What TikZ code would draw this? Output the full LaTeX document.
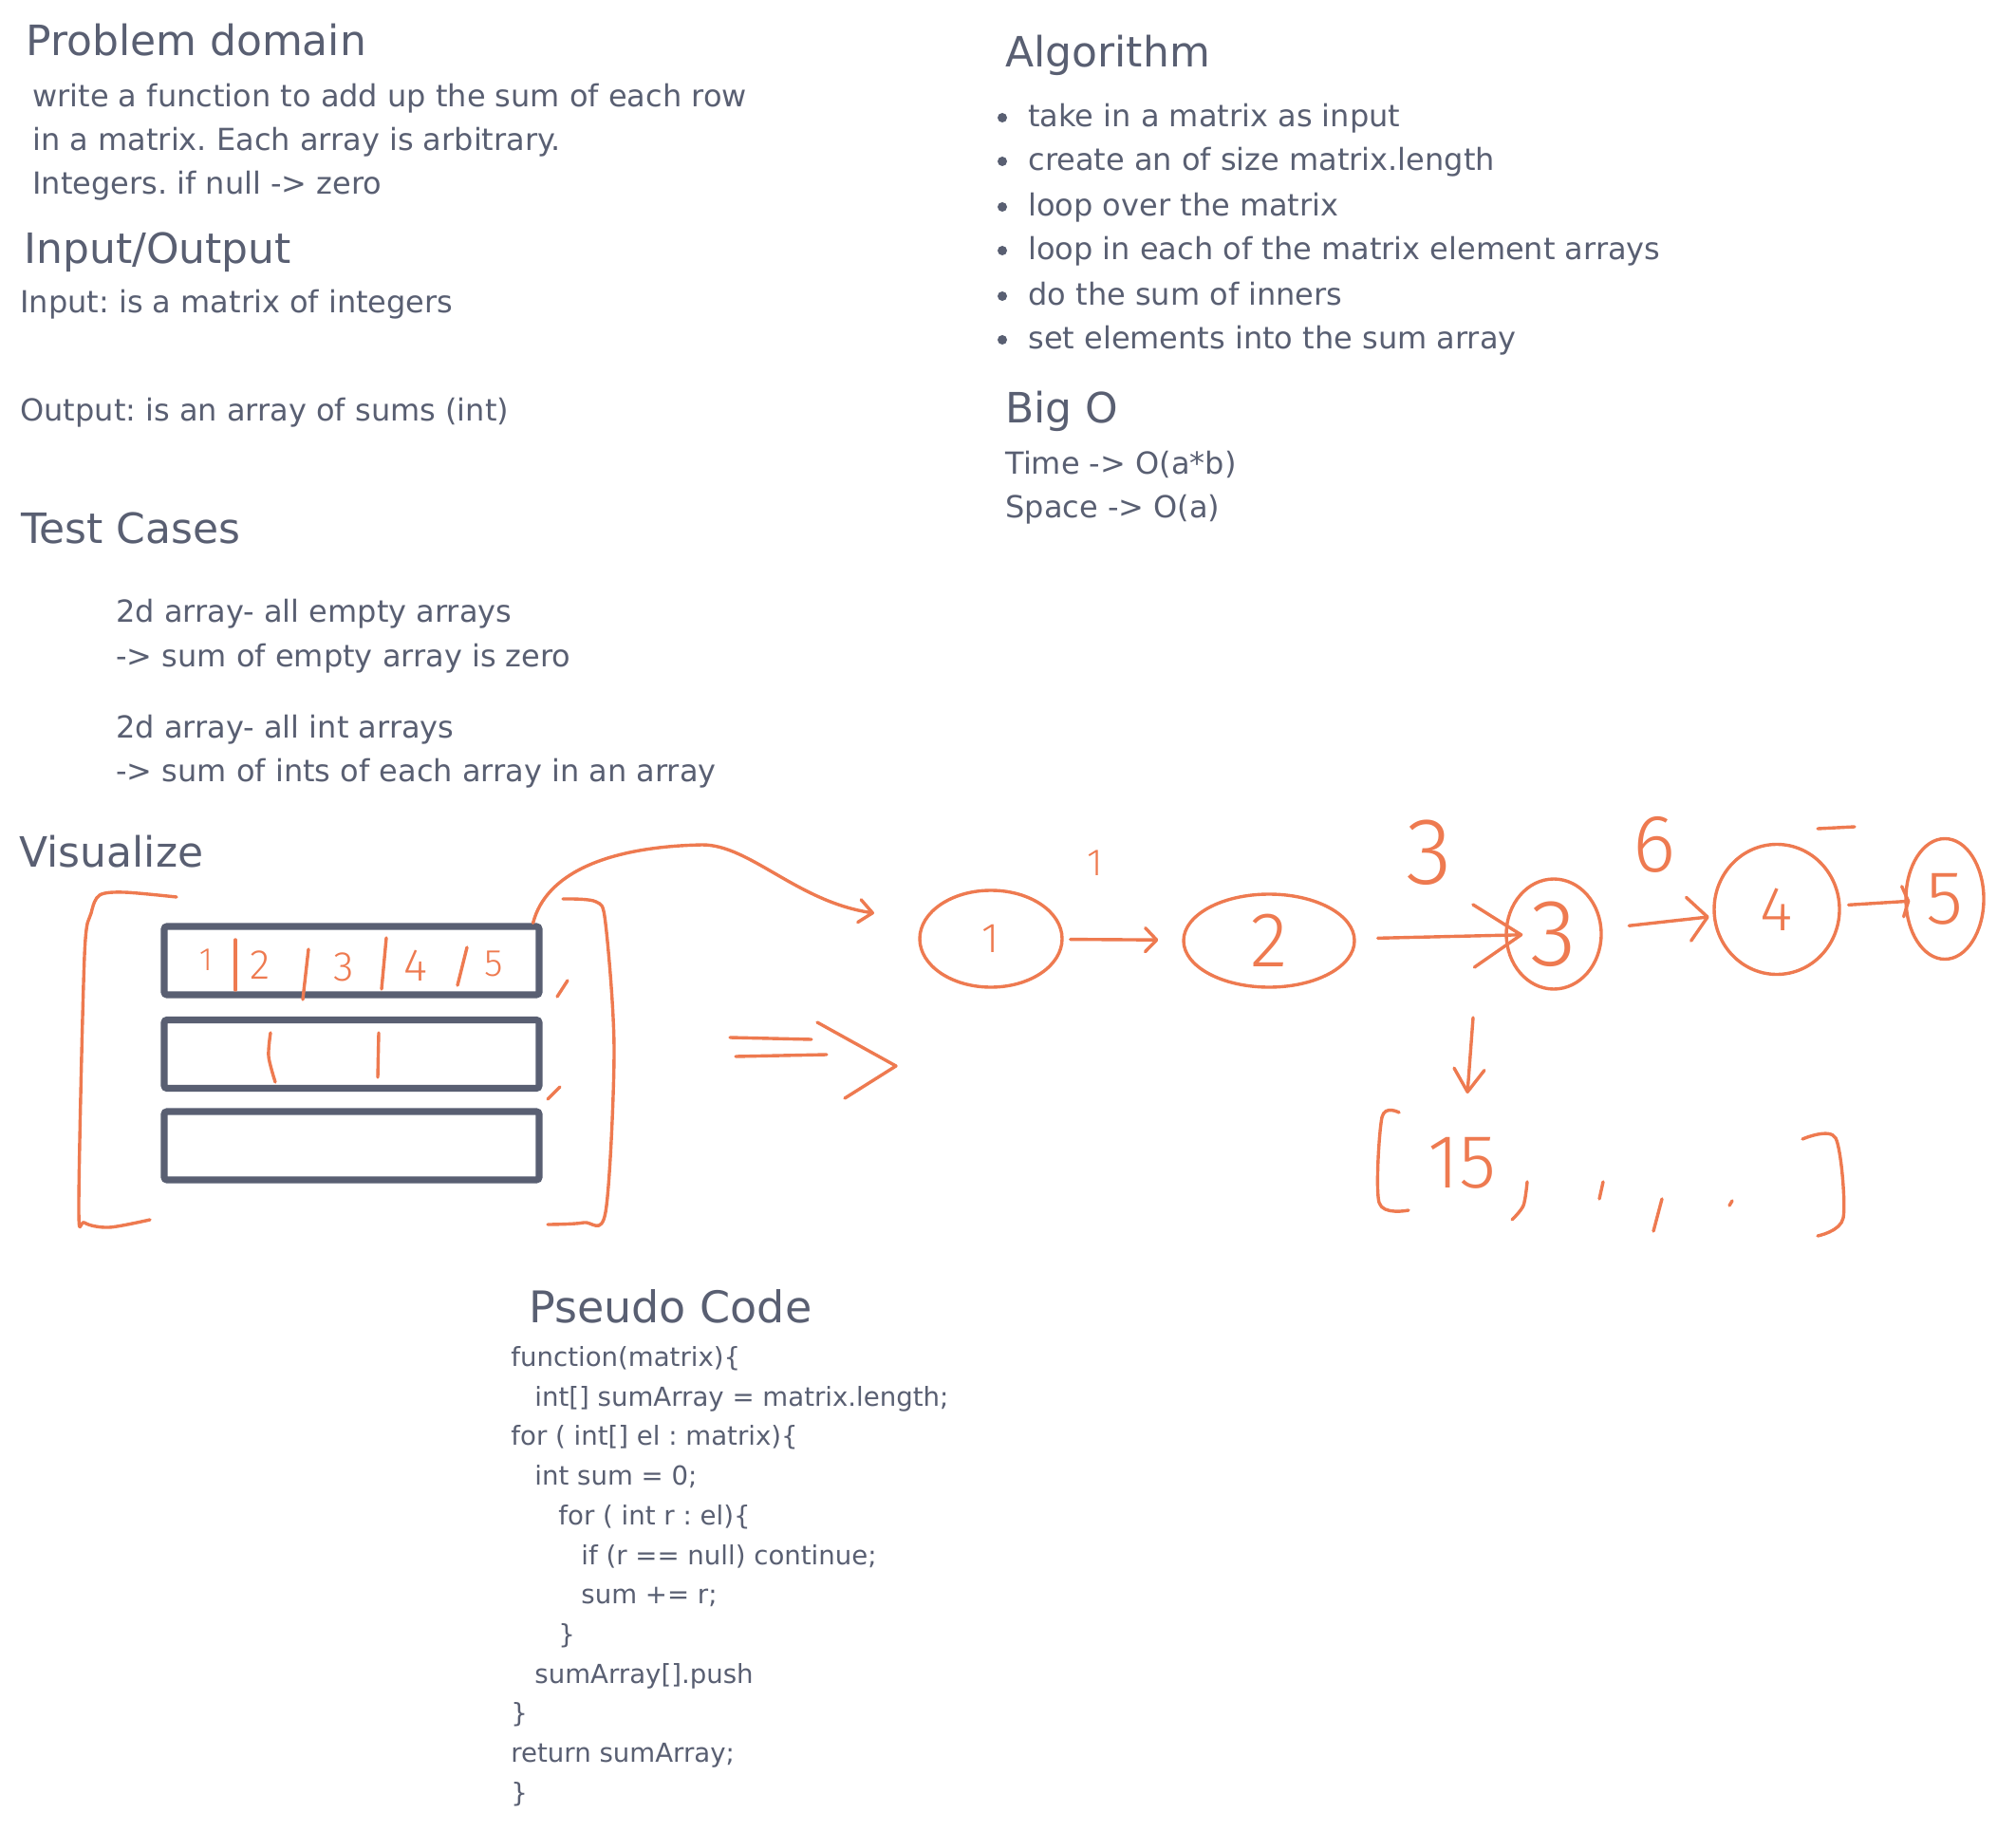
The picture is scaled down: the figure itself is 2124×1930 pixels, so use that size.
\documentclass[tikz,border=0pt]{standalone}
\usepackage{fontspec}
\setmainfont{DejaVu Sans}
\newfontfamily\handfont{Fira Sans Light}
\frenchspacing
\usetikzlibrary{shapes.geometric,arrows.meta}
\definecolor{slate}{RGB}{89,95,114}
\definecolor{pen}{RGB}{238,122,80}
\tikzstyle{Heading}=[anchor=base west, inner sep=0pt, text=slate, font=\fontsize{22}{26}\selectfont]
\tikzstyle{BodyText}=[anchor=base west, inner sep=0pt, text=slate, font=\fontsize{16}{19}\selectfont]
\tikzstyle{CodeLine}=[BodyText, font=\fontsize{13.8}{16}\selectfont]
\tikzstyle{Bullet}=[circle, fill=slate, inner sep=0pt, minimum size=5pt]
\tikzstyle{RowBox}=[rectangle, draw=slate, line width=3.6pt, rounded corners=1.5pt, minimum width=197.5pt, minimum height=36pt]
\tikzstyle{Pen}=[draw=pen, line width=1.7pt, line cap=round, line join=round]
\tikzstyle{Ink}=[text=pen, inner sep=0pt]
\tikzstyle{NumNode}=[ellipse, Pen, Ink]
\tikzstyle{PenEdge}=[Pen, ->]
\tikzset{>={Straight Barb[round]}}
\tikzset{HandSize/.style={font=\handfont\fontsize{#1}{#1}\selectfont}}

\begin{document}
\begin{tikzpicture}[x=0.5pt, y=-0.5pt]
\fill[white] (0,0) rectangle (2124,1930);
\useasboundingbox (0,0) rectangle (2124,1930);

% problem domain and input/output
\node[Heading](pdTitle) at (27,59) {Problem domain};
\node[BodyText](pd1) at (34,113) {write a function to add up the sum of each row};
\node[BodyText](pd2) at (34,159) {in a matrix. Each array is arbitrary.};
\node[BodyText](pd3) at (34,205) {Integers. if null -> zero};

\node[Heading](ioTitle) at (25,278) {Input/Output};
\node[BodyText](ioIn) at (21,330) {Input: is a matrix of integers};
\node[BodyText](ioOut) at (21,444) {Output: is an array of sums (int)};

\node[Heading](tcTitle) at (22,573) {Test Cases};
\node[BodyText](tc1) at (122,655) {2d array- all empty arrays};
\node[BodyText](tc2) at (122,702) {-> sum of empty array is zero};
\node[BodyText](tc3) at (122,777) {2d array- all int arrays};
\node[BodyText](tc4) at (122,823) {-> sum of ints of each array in an array};

%%%%%%%%%%%%%%%%%%%%%%%%%%%%%%%%%%%%%%%%%

\node[Heading](algTitle) at (1059,71) {Algorithm};
\node[Bullet](b1) at (1056,124) {};
\node[BodyText](alg1) at (1083,134) {take in a matrix as input};
\node[Bullet](b2) at (1056,170) {};
\node[BodyText](alg2) at (1083,180) {create an of size matrix.length};
\node[Bullet](b3) at (1056,218) {};
\node[BodyText](alg3) at (1083,228) {loop over the matrix};
\node[Bullet](b4) at (1056,264) {};
\node[BodyText](alg4) at (1083,274) {loop in each of the matrix element arrays};
\node[Bullet](b5) at (1056,312) {};
\node[BodyText](alg5) at (1083,322) {do the sum of inners};
\node[Bullet](b6) at (1056,358) {};
\node[BodyText](alg6) at (1083,368) {set elements into the sum array};

\node[Heading](boTitle) at (1059,446) {Big O};
\node[BodyText](boTime) at (1059,500) {Time -> O(a*b)};
\node[BodyText](boSpace) at (1059,546) {Space -> O(a)};

%%%%%%%%%%%%%%%%%%%%%%%%%%%%%%%%%%%%%%%%%

\node[Heading](visTitle) at (20,913) {Visualize};

\node[RowBox](row1) at (370.5,1012) {};
\node[RowBox](row2) at (370.5,1110.5) {};
\node[RowBox](row3) at (370.5,1207) {};

\node[Ink, HandSize=17](e1) at (217,1011) {1};
\node[Ink, HandSize=22](e2) at (274,1017) {2};
\node[Ink, HandSize=22](e3) at (362,1019) {3};
\node[Ink, HandSize=24](e4) at (438,1017) {4};
\node[Ink, HandSize=20](e5) at (520,1015) {5};
\draw[Pen] (248,990) -- (248,1043);
\draw[Pen] (325,1000) -- (319,1053);
\draw[Pen] (407,988) -- (402,1042);
\draw[Pen] (492,998) -- (482,1038);
\draw[Pen] plot[smooth] coordinates {(285,1088) (283,1113) (290,1140)};
\draw[Pen] (399,1088) -- (398,1135);
\draw[Pen] (598,1033) -- (587,1050);
\draw[Pen] (590,1145) -- (577,1158);

\draw[Pen] plot[smooth, tension=0.5] coordinates {(186,945) (131,940) (105,943) (96,962) (89,1007) (83,1270) (89,1288) (115,1293) (158,1285)};
\draw[Pen] plot[smooth, tension=0.5] coordinates {(593,947) (628,950) (638,973) (647,1107) (638,1277) (615,1288) (577,1290)};

\coordinate (curveEnd) at (921,962);
\draw[Pen, -{Straight Barb[round, length=7pt, width=12pt]}] ([xshift=-5pt]row1.north east) .. controls (575,920) and (640,892) .. (740,890) .. controls (790,890) and (840,950) .. (curveEnd);

\draw[Pen] (769,1093) -- (855,1095);
\draw[Pen] (775,1113) -- (871,1111);
\draw[Pen] (861,1077) -- (944,1123) -- (890,1157);

%%%%%%%%%%%%%%%%%%%%%%%%%%%%%%%%%%%%%%%%%

\node[NumNode, HandSize=22, minimum width=75pt, minimum height=51pt](c1) at (1044,989) {1};
\node[NumNode, HandSize=41, minimum width=90pt, minimum height=49pt](c2) at (1337,991) {2};
\node[NumNode, HandSize=50, minimum width=50pt, minimum height=58pt](c3) at (1637,984) {3};
\node[NumNode, HandSize=33, minimum width=66pt, minimum height=68.5pt](c4) at (1872,958) {4};
\node[NumNode, HandSize=40, minimum width=41pt, minimum height=63.5pt](c5) at (2049,947) {5};

\draw[PenEdge, shorten <=3.5pt, shorten >=12.5pt, -{Straight Barb[round, length=6pt, width=12.5pt]}](c1) -- (c2);
\draw[PenEdge, shorten <=11.5pt, shorten >=-9.5pt, -{Straight Barb[round, length=25pt, width=33pt]}](c2) -- (c3);
\draw[PenEdge, shorten <=14pt, shorten >=2pt, -{Straight Barb[round, length=10pt, width=23pt]}](c3) -- (c4);
\draw[PenEdge, shorten <=4pt, shorten >=-3pt, -{Straight Barb[round, length=3pt, width=16pt]}](c4) -- (c5);

\node[Ink, HandSize=20](s1) at (1154,909) {1};
\node[Ink, HandSize=50](s2) at (1506,898) {3};
\node[Ink, HandSize=43](s3) at (1743,890) {6};
\draw[Pen] (1915,873) -- (1954,871);

\coordinate (downTop) at (1552,1072);
\coordinate (downTip) at (1546,1152);
\draw[Pen, -{Straight Barb[round, length=12pt, width=16pt]}] (downTop) -- (downTip);

\node[Ink, HandSize=40](res) at (1540,1225) {15};
\draw[Pen] plot[smooth, tension=0.5] coordinates {(1474,1172) (1456,1177) (1453,1267) (1484,1275)};
\draw[Pen] plot[smooth, tension=0.5] coordinates {(1899,1200) (1934,1199) (1942,1283) (1915,1302)};
\draw[Pen] plot[smooth] coordinates {(1609,1245) (1605,1270) (1593,1285)};
\draw[Pen] (1689,1245) -- (1685,1263);
\draw[Pen] (1751,1263) -- (1742,1297);
\draw[Pen] (1825,1265) -- (1822,1270);

%%%%%%%%%%%%%%%%%%%%%%%%%%%%%%%%%%%%%%%%%

\node[Heading, font=\fontsize{23}{27}\selectfont](pcTitle) at (557,1393) {Pseudo Code};
\node[CodeLine](l1) at (538,1439) {function(matrix)\{};
\node[CodeLine](l2) at (563,1481) {int[] sumArray = matrix.length;};
\node[CodeLine](l3) at (538,1522) {for ( int[] el : matrix)\{};
\node[CodeLine](l4) at (563,1564) {int sum = 0;};
\node[CodeLine](l5) at (588,1606) {for ( int r : el)\{};
\node[CodeLine](l6) at (612,1648) {if (r == null) continue;};
\node[CodeLine](l7) at (612,1689) {sum += r;};
\node[CodeLine](l8) at (588,1731) {\}};
\node[CodeLine](l9) at (563,1773) {sumArray[].push};
\node[CodeLine](l10) at (538,1814) {\}};
\node[CodeLine](l11) at (538,1856) {return sumArray;};
\node[CodeLine](l12) at (538,1898) {\}};
\end{tikzpicture}
\end{document}
